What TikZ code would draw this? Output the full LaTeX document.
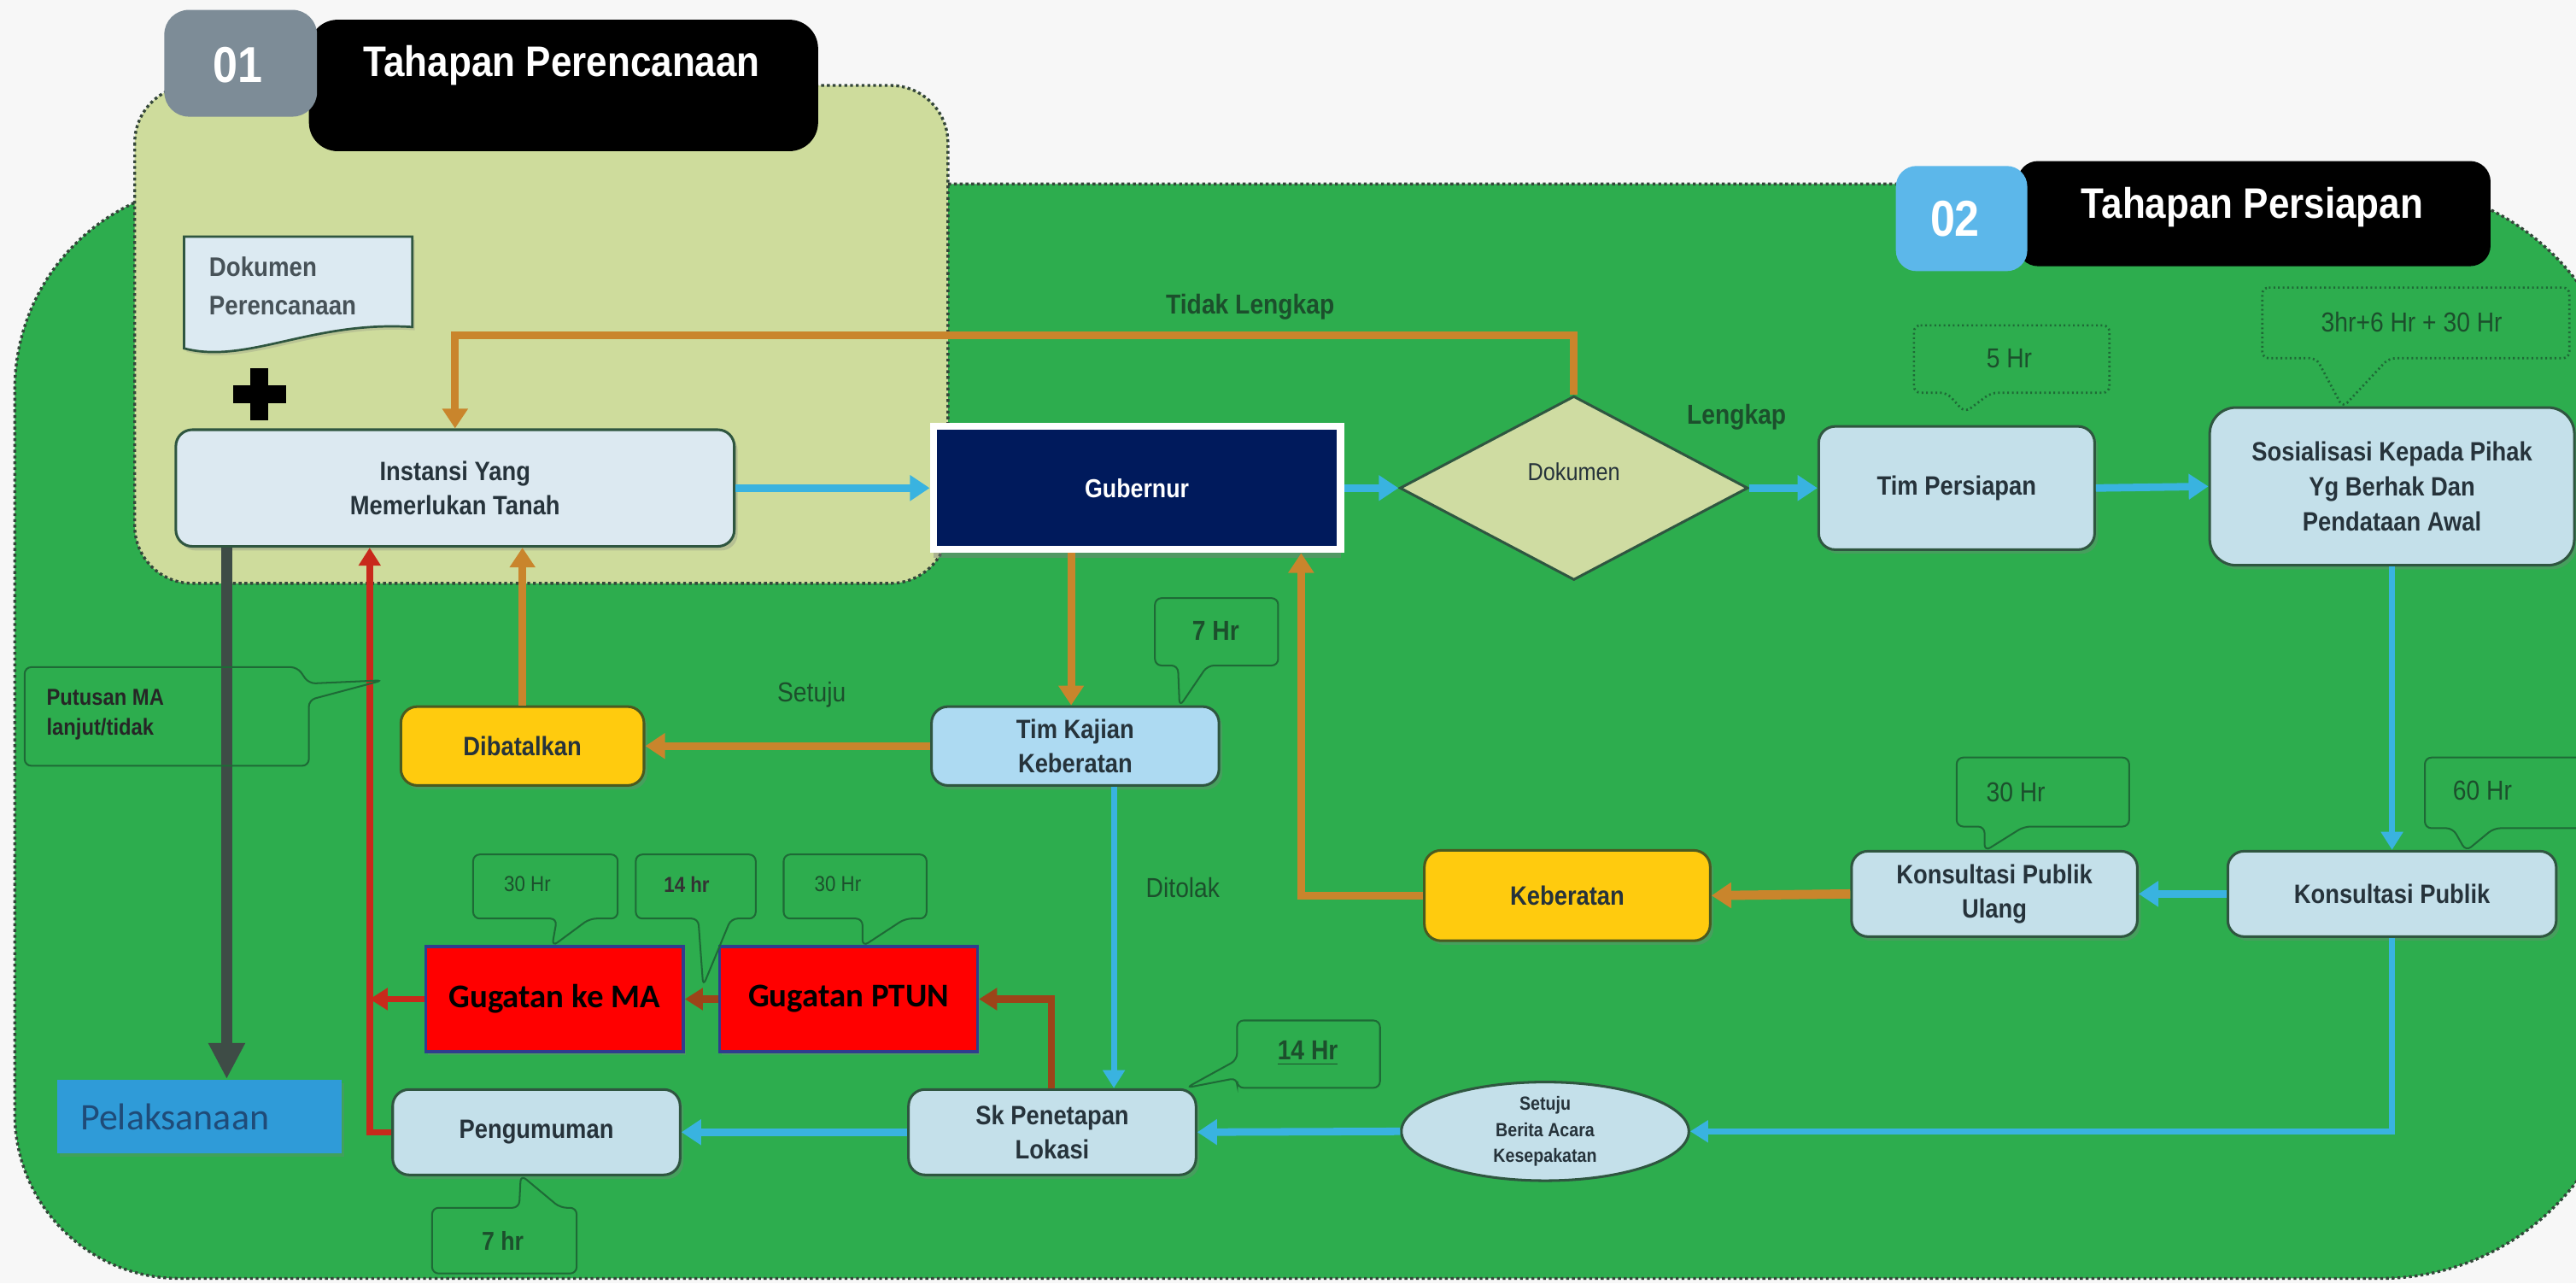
\documentclass[tikz,border=0pt]{standalone}
\usepackage{fontspec}
\setmainfont{Liberation Sans}
\newfontfamily\nf[FakeStretch=0.88]{Liberation Sans}
\newfontfamily\cf{Carlito}
\usetikzlibrary{shapes.geometric,arrows.meta,shadows}
\newcommand{\myfs}[2]{\fontsize{#1}{#2}\selectfont}
\definecolor{bgc}{HTML}{F7F7F7}
\definecolor{dgreen}{HTML}{2DAD4E}
\definecolor{lgreen}{HTML}{CEDC9C}
\definecolor{regb}{HTML}{34463A}
\definecolor{gray01}{HTML}{7D8C97}
\definecolor{blue02}{HTML}{5CB7EA}
\definecolor{instf}{HTML}{DCE9F1}
\definecolor{boxf}{HTML}{C4E0EA}
\definecolor{tkf}{HTML}{ADDAF2}
\definecolor{docf}{HTML}{DCEAF2}
\definecolor{nodeb}{HTML}{2F5640}
\definecolor{ntext}{HTML}{26333B}
\definecolor{yel}{HTML}{FFCB0E}
\definecolor{yelb}{HTML}{4A5A20}
\definecolor{navy}{HTML}{001A5C}
\definecolor{gred}{HTML}{FF0000}
\definecolor{gredb}{HTML}{2E3E8E}
\definecolor{pelb}{HTML}{2F9BD8}
\definecolor{pelt}{HTML}{1F4B78}
\definecolor{arrb}{HTML}{39B3E0}
\definecolor{orng}{HTML}{C9852C}
\definecolor{brwn}{HTML}{9C4419}
\definecolor{redl}{HTML}{C8291B}
\definecolor{grayar}{HTML}{3E4C46}
\definecolor{cogreen}{HTML}{1E6A36}
\definecolor{cotext}{HTML}{1C4F2C}
\definecolor{dia}{HTML}{CFDCA2}
\begin{document}
\begin{tikzpicture}[x=0.02cm,y=-0.02cm,
  box/.style={draw=nodeb, line width=0.9pt, rounded corners=0.2cm, fill=boxf, text=ntext,
    font={\nf\bfseries\myfs{9.2}{12}}, align=center, inner sep=0pt,
    drop shadow={shadow xshift=0.04cm, shadow yshift=-0.05cm, opacity=0.3}},
  ybox/.style={box, fill=yel, draw=yelb},
  rbox/.style={fill=gred, draw=gredb, line width=1pt, text=black, font={\cf\bfseries\myfs{11.5}{14}},
    inner sep=0pt, drop shadow={shadow xshift=0.03cm, shadow yshift=-0.04cm, opacity=0.35}},
  cob/.style={draw=cogreen, line width=0.6pt, rounded corners=0.08cm},
  cot/.style={text=cotext, font={\nf\myfs{9.5}{11}}, inner sep=0pt},
  cos/.style={text=cotext, font={\nf\myfs{7.5}{9}}, inner sep=0pt},
  lbl/.style={text=cotext, font={\nf\bfseries\myfs{9.5}{11}}, inner sep=0pt},
  barrow/.style={draw=arrb, line width=2.6pt, -{Triangle[length=0.24cm,width=0.3cm]}},
  bthin/.style={draw=arrb, line width=2pt, -{Triangle[length=0.22cm,width=0.26cm]}},
  oarrow/.style={draw=orng, line width=2.6pt, -{Triangle[length=0.24cm,width=0.3cm]}},
  rarrow/.style={draw=redl, line width=2.2pt, -{Triangle[length=0.22cm,width=0.26cm]}},
  brarrow/.style={draw=brwn, line width=2.4pt, -{Triangle[length=0.22cm,width=0.26cm]}},
  titlebox/.style={fill=black, rounded corners=0.35cm, inner sep=0pt},
  titletext/.style={text=white, font={\nf\bfseries\myfs{14.8}{17}}, inner sep=0pt},
  numtext/.style={text=white, font={\nf\bfseries\myfs{17.5}{20}}, inner sep=0pt}
]
\clip (0,0) rectangle (1568,781);
\fill[bgc] (0,0) rectangle (1568,781);

% regions
\path[fill=dgreen, draw=regb, line width=1pt, densely dotted]
  (9,237) .. controls (9,168) and (65,112) .. (134,112) -- (1449,112)
  .. controls (1532,112) and (1599,179) .. (1599,262) -- (1599,628)
  .. controls (1599,711) and (1532,778) .. (1449,778) -- (109,778)
  .. controls (54,778) and (9,733) .. (9,678) -- cycle;
\path[fill=lgreen, draw=regb, line width=1pt, densely dotted, rounded corners=0.7cm]
  (82,52) rectangle (577,355);

% titles
\node[titlebox, minimum width=6.2cm, minimum height=1.6cm] (t1box) at (343,52) {};
\node[titletext] (t1) at (342,40) {Tahapan Perencanaan};
\node[fill=gray01, rounded corners=0.3cm, minimum width=1.86cm, minimum height=1.3cm, inner sep=0pt] (n1box) at (146.5,38.5) {};
\node[numtext] (n1) at (145,39.5) {01};
\node[titlebox, rounded corners=0.25cm, minimum width=5.76cm, minimum height=1.28cm] (t2box) at (1372,130) {};
\node[titletext] (t2) at (1371,126) {Tahapan Persiapan};
\node[fill=blue02, rounded corners=0.25cm, minimum width=1.6cm, minimum height=1.28cm, inner sep=0pt] (n2box) at (1194,133) {};
\node[numtext] (n2) at (1190,133) {02};

% document shape
\path[fill=docf, draw=nodeb, line width=0.8pt, drop shadow={shadow xshift=0.03cm, shadow yshift=-0.04cm, opacity=0.25}]
  (112,144) -- (251,144) -- (251,199) .. controls (190,195) and (150,222) .. (112,212) -- cycle;
\node[text=ntext!85, font={\nf\bfseries\myfs{9.3}{13.5}}, align=left, anchor=west, inner sep=0pt] (dpt) at (127,174) {Dokumen\\Perencanaan};

% plus sign
\draw[black, line width=6.2pt] (142,240) -- (174,240);
\draw[black, line width=6.2pt] (158,224) -- (158,256);

% nodes
\node[box, fill=instf, minimum width=6.8cm, minimum height=1.42cm] (inst) at (277,297) {Instansi Yang\\Memerlukan Tanah};
\node[draw=white, line width=2.4pt, fill=navy, minimum width=4.96cm, minimum height=1.5cm, text=white,
  font={\nf\bfseries\myfs{9}{11}}, inner sep=0pt,
  drop shadow={shadow xshift=0cm, shadow yshift=-0.1cm, opacity=0.45}] (gub) at (692,297) {Gubernur};
\node[diamond, draw=nodeb, line width=0.9pt, fill=dia, aspect=1.9, minimum width=4.24cm, minimum height=2.24cm, inner sep=0pt] (dok) at (958,297) {};
\node[text=ntext, font={\nf\myfs{8.5}{10}}, inner sep=0pt] (dokt) at (958,287) {Dokumen};
\node[box, minimum width=3.36cm, minimum height=1.5cm] (timp) at (1191,297) {Tim Persiapan};
\node[box, rounded corners=0.32cm, minimum width=4.44cm, minimum height=1.92cm] (sos) at (1456,296) {Sosialisasi Kepada Pihak\\Yg Berhak Dan\\Pendataan Awal};
\node[box, minimum width=4cm, minimum height=1.04cm] (kp) at (1456,544) {Konsultasi Publik};
\node[box, minimum width=3.48cm, minimum height=1.04cm] (kpu) at (1214,544) {Konsultasi Publik\\Ulang};
\node[ybox, minimum width=3.48cm, minimum height=1.1cm] (keb) at (954,545) {Keberatan};
\node[box, fill=tkf, minimum width=3.5cm, minimum height=0.96cm] (tkk) at (654.5,454) {Tim Kajian\\Keberatan};
\node[ybox, minimum width=2.96cm, minimum height=0.96cm] (dib) at (318,454) {Dibatalkan};
\node[rbox, minimum width=3.14cm, minimum height=1.28cm] (gma) at (337.5,608) {Gugatan ke MA};
\node[rbox, minimum width=3.14cm, minimum height=1.28cm] (gptun) at (516.5,608) {Gugatan PTUN};
\node[box, minimum width=3.5cm, minimum height=1.04cm] (sk) at (640.5,689) {Sk Penetapan\\Lokasi};
\node[box, minimum width=3.5cm, minimum height=1.04cm] (peng) at (326.5,689) {Pengumuman};
\node[ellipse, draw=nodeb, line width=0.9pt, fill=boxf, text=ntext, minimum width=3.5cm, minimum height=1.06cm,
  inner sep=0pt, align=center, font={\nf\bfseries\myfs{6.6}{9}}] (ell) at (940.5,688.5) {Setuju\\Berita Acara\\Kesepakatan};
\node[fill=pelb, minimum width=3.46cm, minimum height=0.9cm, inner xsep=0.28cm, inner ysep=0pt, text width=2.9cm,
  align=left, text=pelt, font={\cf\myfs{13}{15}},
  drop shadow={shadow xshift=0.03cm, shadow yshift=-0.04cm, opacity=0.25}] (pel) at (121.5,679.5) {Pelaksanaan};

% helper coordinates
\coordinate (tly) at (0,204);
\coordinate (vo1) at (652,0);
\coordinate (vo2) at (792,0);
\coordinate (vred) at (225,0);
\coordinate (vg) at (138,0);
\coordinate (vb) at (678,0);
\coordinate (vbr) at (640,0);

% blue connectors
\draw[barrow] (inst.east) -- (gub.west);
\draw[barrow] (gub.east) -- (dok.west);
\draw[barrow] (dok.east) -- (timp.west);
\draw[barrow] (timp.east) -- (sos.west);
\draw[bthin] (sos.south) -- (kp.north);
\draw[barrow] (kp.west) -- (kpu.east);
\draw[bthin] (kp.south) |- (ell.east);
\draw[barrow] (ell.west) -- (sk.east);
\draw[barrow] (sk.west) -- (peng.east);
\draw[bthin] (tkk.south -| vb) -- (sk.north -| vb);

% orange connectors
\draw[oarrow] (dok.north) -- (dok.north |- tly) -- (inst.north |- tly) -- (inst.north);
\draw[oarrow] (gub.south -| vo1) -- (tkk.north -| vo1);
\draw[oarrow] (tkk.west) -- (dib.east);
\draw[oarrow] (dib.north) -- (dib.north |- inst.south);
\draw[oarrow, line width=3.2pt] (kpu.west) -- (keb.east);
\draw[oarrow] (keb.west) -| (gub.south -| vo2);

% red / brown connectors
\draw[rarrow] (peng.west) -| (inst.south -| vred);
\draw[rarrow] (gma.west) -- (gma.west -| vred);
\draw[brarrow] (gptun.west) -- (gma.east);
\draw[brarrow] (sk.north -| vbr) |- (gptun.east);

% gray connector
\draw[draw=grayar, line width=4pt, -{Triangle[length=0.44cm,width=0.42cm]}] (inst.south -| vg) -- (pel.north -| vg);

% labels
\node[lbl] (l1) at (761,187) {Tidak Lengkap};
\node[lbl] (l2) at (1057,254) {Lengkap};
\node[lbl, font={\nf\myfs{9.5}{11}}] (l3) at (494,423) {Setuju};
\node[lbl, font={\nf\myfs{9.5}{11}}] (l4) at (720,540) {Ditolak};

% callouts
\draw[cob, densely dotted, line width=0.8pt] (1165,198) -- (1284,198) -- (1284,239) -- (1212,239) -- (1196,251) -- (1185,239) -- (1165,239) -- cycle;
\node[cot] (c1) at (1223,218) {5 Hr};
\draw[cob, densely dotted, line width=0.8pt] (1377,175) -- (1564,175) -- (1564,218) -- (1454,218) -- (1426,248) -- (1410,218) -- (1377,218) -- cycle;
\node[cot] (c2) at (1468,196) {3hr+6 Hr + 30 Hr};
\draw[cob] (703,364) -- (778,364) -- (778,405) -- (735,405) -- (718,430) -- (717,405) -- (703,405) -- cycle;
\node[cot, font={\nf\bfseries\myfs{9.5}{11}}] (c3) at (740,384) {7 Hr};
\draw[cob] (1476,461) -- (1580,461) -- (1580,504) -- (1518,504) -- (1501,518) -- (1493,504) -- (1476,504) -- cycle;
\node[cot] (c4) at (1511,481) {60 Hr};
\draw[cob] (1191,461) -- (1296,461) -- (1296,503) -- (1232,503) -- (1208,518) -- (1208,503) -- (1191,503) -- cycle;
\node[cot] (c5) at (1227,482) {30 Hr};
\draw[cob] (753,621) -- (840,621) -- (840,662) -- (753,662) -- (753,656) -- (722,662) -- (753,645) -- cycle;
\node[cot, font={\nf\bfseries\myfs{9.5}{11}}] (c6) at (796,641) {\underline{14 Hr}};
\draw[cob] (288,520) -- (376,520) -- (376,559) -- (359,559) -- (336,576) -- (339,559) -- (288,559) -- cycle;
\node[cos] (c7) at (321,538) {30 Hr};
\draw[cob] (387,520) -- (460,520) -- (460,559) -- (445,559) -- (428,600) -- (425,559) -- (387,559) -- cycle;
\node[cos, font={\nf\bfseries\myfs{7.5}{9}}, text=black!80] (c8) at (418,538) {14 hr};
\draw[cob] (477,520) -- (564,520) -- (564,559) -- (551,559) -- (525,576) -- (525,559) -- (477,559) -- cycle;
\node[cos] (c9) at (510,538) {30 Hr};
\draw[cob] (263,735) -- (316,735) -- (317,715) -- (341,735) -- (351,735) -- (351,775) -- (263,775) -- cycle;
\node[cot, font={\nf\bfseries\myfs{9}{11}}] (c10) at (306,755) {7 hr};
\draw[cob] (15,406) -- (181,406) -- (188,416) -- (233,414) -- (188,426) -- (188,466) -- (15,466) -- cycle;
\node[text=black!85, font={\nf\bfseries\myfs{8}{10.5}}, align=left, anchor=west, inner sep=0pt] (c11) at (28,435) {Putusan MA\\lanjut/tidak};
\end{tikzpicture}
\end{document}
